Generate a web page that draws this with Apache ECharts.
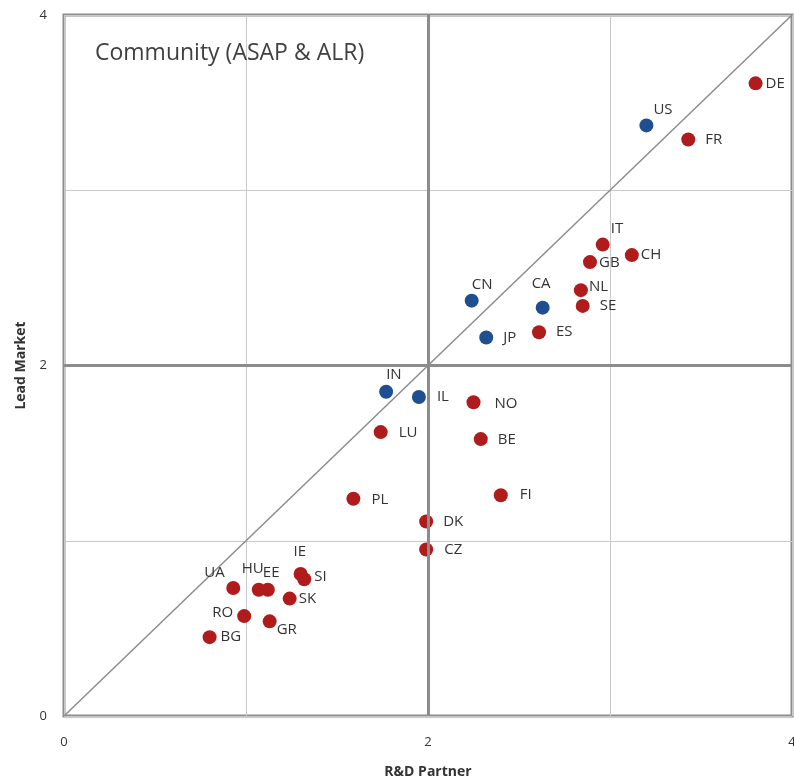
<!DOCTYPE html>
<html><head><meta charset="utf-8">
<script src="https://cdn.jsdelivr.net/npm/echarts@6/dist/echarts.min.js"></script>
<style>html,body{margin:0;padding:0;background:#fff}#c{width:794px;height:782px}</style>
</head><body><div id="c"></div>
<script>
// ---- data ----
const countries  = ['DE','US','FR','IT','CH','GB','NL','SE','CN','CA','JP','ES','IN','IL','NO','LU','BE','FI','PL','DK','CZ','IE','SI','UA','HU','EE','SK','RO','GR','BG'];
const rdPartner  = [3.80,3.20,3.43,2.96,3.12,2.89,2.84,2.85,2.24,2.63,2.32,2.61,1.77,1.95,2.25,1.74,2.29,2.40,1.59,1.99,1.99,1.30,1.32,0.93,1.07,1.12,1.24,0.99,1.13,0.80];
const leadMarket = [3.61,3.37,3.29,2.69,2.63,2.59,2.43,2.34,2.37,2.33,2.16,2.19,1.85,1.82,1.79,1.62,1.58,1.26,1.24,1.11,0.95,0.81,0.78,0.73,0.72,0.72,0.67,0.57,0.54,0.45];
const nonEuropean = ['US','CN','CA','JP','IN','IL'];
const tickLabels = ['0','2','4'];

// ---- label placement (style) ----
const labelOffset = {
  DE:[10,0], US:[7,-16], FR:[17,0], IT:[8,-16], CH:[9,0], GB:[9,1], NL:[8,-3], SE:[17,0],
  CN:[0,-16], CA:[-11,-24], JP:[17,0], ES:[17,0], IN:[0,-17], IL:[18,0], NO:[21,1],
  LU:[18,1], BE:[17,1], FI:[19,0], PL:[18,1], DK:[17,0], CZ:[18,0], IE:[-7,-22],
  SI:[10,-3], UA:[-29,-15], HU:[-17,-21], EE:[-5,-17], SK:[9,0], RO:[-32,-3], GR:[7,8], BG:[11,0]
};

function pts(filterFn){
  const out=[];
  countries.forEach((c,i)=>{
    if(filterFn(c)) out.push({name:c,value:[rdPartner[i],leadMarket[i]],
      label:{offset:labelOffset[c]||[10,0]}});
  });
  return out;
}

const font = "'Open Sans', 'Liberation Sans', sans-serif";
const gridGray = '#c9c9c9', darkGray = '#8c8c8c', textCol = '#333333';
const labelCfg = {show:true, position:'inside', align:'left', verticalAlign:'middle',
  formatter:'{b}', color:textCol, fontSize:15, fontFamily:font};

const chart = echarts.init(document.getElementById('c'));
chart.setOption({
  animation:false,
  title:{text:'Community (ASAP & ALR)', left:90, top:37,
    textStyle:{fontSize:23, fontWeight:'normal', color:'#404040', fontFamily:font}},
  grid:{left:64, top:15, right:2, bottom:66, show:true, borderColor:darkGray, borderWidth:3,
    outerBoundsMode:'none', containLabel:false},
  xAxis:{type:'value', min:0, max:4, interval:1,
    name:'R&D Partner', nameLocation:'middle', nameGap:49,
    nameTextStyle:{fontWeight:'bold', fontSize:14, color:textCol, fontFamily:font},
    axisLine:{show:false}, axisTick:{show:false},
    axisLabel:{margin:20, fontSize:13, color:textCol, fontFamily:font,
      formatter:v=>(v%2===0? tickLabels[v/2] : '')},
    splitLine:{lineStyle:{color:gridGray, width:1}}},
  yAxis:{type:'value', min:0, max:4, interval:1,
    name:'Lead Market', nameLocation:'middle', nameGap:36, nameRotate:90,
    nameTextStyle:{fontWeight:'bold', fontSize:14, color:textCol, fontFamily:font},
    axisLine:{show:false}, axisTick:{show:false},
    axisLabel:{margin:17, fontSize:13, color:textCol, fontFamily:font,
      formatter:v=>(v%2===0? tickLabels[v/2] : '')},
    splitLine:{lineStyle:{color:gridGray, width:1}}},
  series:[
    {type:'line', data:[[0,0],[4,4]], symbol:'none', silent:true,
      lineStyle:{color:darkGray, width:1.5}, z:1,
      markLine:{silent:true, symbol:'none', label:{show:false},
        lineStyle:{color:darkGray, width:3, type:'solid'},
        data:[{xAxis:2},{yAxis:2}]}},
    {type:'scatter', name:'Europe', data:pts(c=>!nonEuropean.includes(c)),
      symbolSize:14, itemStyle:{color:'#b01c1c', opacity:1}, label:labelCfg, z:3},
    {type:'scatter', name:'Other', data:pts(c=>nonEuropean.includes(c)),
      symbolSize:14, itemStyle:{color:'#1f4e91', opacity:1}, label:labelCfg, z:3}
  ]
});
</script></body></html>
